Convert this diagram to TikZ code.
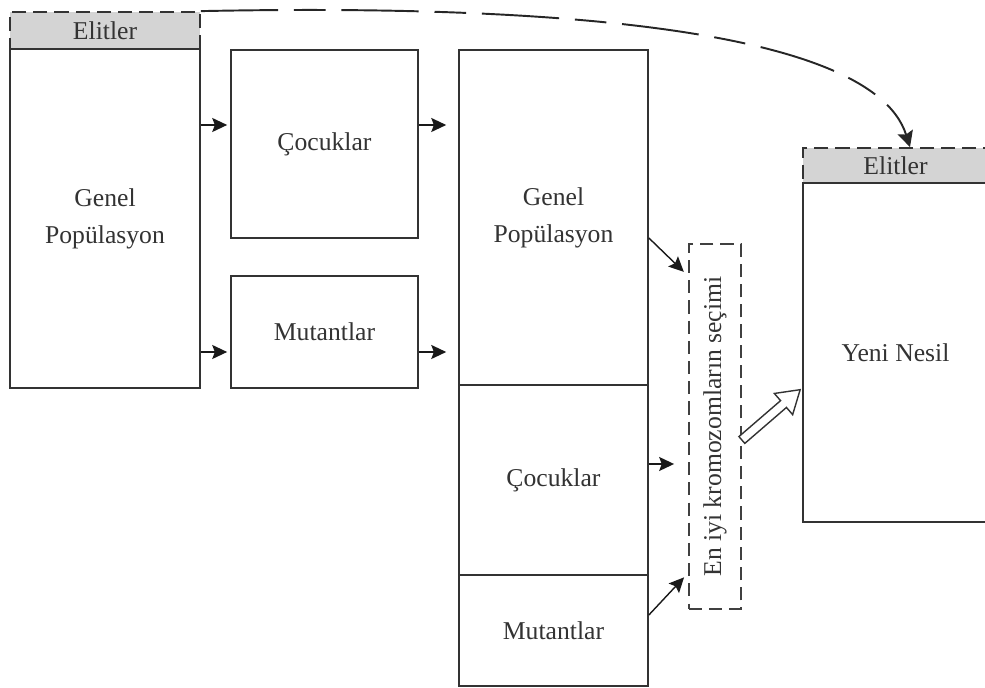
\documentclass[tikz,border=0pt]{standalone}
\usepackage{fontspec}
\setmainfont{Liberation Serif}
\usetikzlibrary{arrows.meta,calc}

\tikzset{
  box/.style={draw=black!80, line width=1pt, fill=white, inner sep=0pt, align=center,
    text=black!80, font=\fontsize{14.6}{21}\selectfont},
  hdr/.style={box, fill=black!17, dash pattern=on 8pt off 4pt},
  selbox/.style={draw=black!75, line width=1pt, dash pattern=on 7.5pt off 4pt, inner sep=0pt,
    text=black!80, font=\fontsize{14.6}{21}\selectfont},
  arr/.style={-{Stealth[length=8.5pt,width=8pt,inset=1.5pt]}, line width=0.8pt, black!90},
}

\begin{document}
\begin{tikzpicture}[x=0.02cm,y=-0.02cm]
    \useasboundingbox (0,0) rectangle (985,688);
    \clip (0,0) rectangle (985,688);
    % starting population
    \node[hdr, minimum width=3.8cm, minimum height=0.74cm] (elit1) at (105,30.5) {Elitler};
    \node[box, minimum width=3.8cm, minimum height=6.78cm] (gen1) at (105,218.5) {Genel\\Popülasyon};
    % offspring and mutants
    \node[box, minimum width=3.74cm, minimum height=3.76cm] (coc1) at (324.5,144) {Çocuklar};
    \node[box, minimum width=3.74cm, minimum height=2.24cm] (mut1) at (324.5,332) {Mutantlar};
    % merged population
    \node[box, minimum width=3.78cm, minimum height=6.7cm] (gen2) at (553.5,217.5) {Genel\\Popülasyon};
    \node[box, minimum width=3.78cm, minimum height=3.8cm] (coc2) at (553.5,480) {Çocuklar};
    \node[box, minimum width=3.78cm, minimum height=2.22cm] (mut2) at (553.5,630.5) {Mutantlar};
    % selection
    \node[selbox, minimum width=1.04cm, minimum height=7.3cm] (sec) at (715,426.5)
        {\rotatebox{90}{En iyi kromozomların seçimi}};
    % new generation
    \node[hdr, minimum width=3.7cm, minimum height=0.7cm] (elit2) at (895.5,165.5) {Elitler};
    \node[box, minimum width=3.7cm, minimum height=6.78cm] (yeni) at (895.5,352.5) {Yeni Nesil};

    \draw[arr, shorten >=1.7pt] (gen1.east |- 0,125) -- (coc1.west |- 0,125);
    \draw[arr, shorten >=1.7pt] (gen1.east |- 0,352) -- (mut1.west |- 0,352);
    \draw[arr, shorten >=6.8pt] (coc1.east |- 0,125) -- (gen2.west |- 0,125);
    \draw[arr, shorten >=6.8pt] (mut1.east |- 0,352) -- (gen2.west |- 0,352);
    \draw[arr, shorten >=3.4pt] (gen2.east |- 0,238) -- (sec.west |- 0,276);
    \draw[arr, shorten >=8pt] (coc2.east |- 0,464) -- (sec.west |- 0,464);
    \draw[arr, shorten >=3.4pt] (mut2.east |- 0,615) -- (sec.west |- 0,573);
    % hollow arrow to the new generation
    \draw[black!80, line width=0.8pt, fill=white, shift={(sec.east |- 0,440)}, rotate=40.8]
        (0,-4.5) -- (55,-4.5) -- (55,-14) -- (77,0) -- (55,14) -- (55,4.5) -- (0,4.5) -- cycle;
    % elites carried over
    \draw[black!85, line width=1.1pt, dash pattern=on 44pt off 9pt on 18pt off 9pt,
        -{Stealth[length=9pt,width=9pt,inset=1.5pt]}]
        (elit1.north east) .. controls (500,5) and (870,20) .. ([xshift=0.29cm]elit2.north);
\end{tikzpicture}
\end{document}
